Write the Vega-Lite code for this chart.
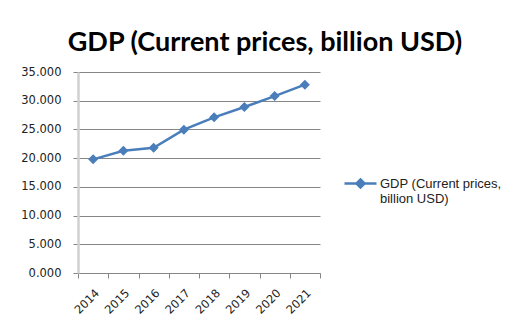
{
  "$schema": "https://vega.github.io/schema/vega-lite/v6.json",
  "width": 242,
  "height": 201,
  "autosize": "none",
  "padding": {"left": 78, "top": 72, "right": 196, "bottom": 53},
  "background": "white",
  "title": {
    "text": "GDP (Current prices, billion USD)",
    "font": "Lato",
    "fontSize": 27,
    "fontWeight": "bold",
    "color": "#000000",
    "anchor": "middle",
    "dx": 66,
    "offset": 9
  },
  "config": {
    "view": {"stroke": null},
    "axis": {"labelFont": "DejaVu Sans", "labelFontSize": 11.5, "labelColor": "#222222"}
  },
  "data": {
    "values": [
      {"year": "2014", "gdp": 19.79, "series": "GDP"},
      {"year": "2015", "gdp": 21.29, "series": "GDP"},
      {"year": "2016", "gdp": 21.8, "series": "GDP"},
      {"year": "2017", "gdp": 24.95, "series": "GDP"},
      {"year": "2018", "gdp": 27.1, "series": "GDP"},
      {"year": "2019", "gdp": 28.9, "series": "GDP"},
      {"year": "2020", "gdp": 30.8, "series": "GDP"},
      {"year": "2021", "gdp": 32.8, "series": "GDP"}
    ]
  },
  "encoding": {
    "x": {
      "field": "year",
      "type": "ordinal",
      "scale": {"paddingInner": 0, "paddingOuter": 0},
      "axis": {
        "title": null,
        "labelAngle": -45,
        "tickBand": "extent",
        "domainColor": "#868686",
        "tickColor": "#868686",
        "tickSize": 5,
        "labelPadding": 9,
        "grid": false
      }
    },
    "y": {
      "field": "gdp",
      "type": "quantitative",
      "scale": {"domain": [0, 35], "nice": false},
      "axis": {
        "title": null,
        "values": [0, 5, 10, 15, 20, 25, 30, 35],
        "format": ".3f",
        "grid": true,
        "gridColor": "#868686",
        "domainColor": "#D0D0D0",
        "domainWidth": 2.5,
        "tickColor": "#868686",
        "tickSize": 5,
        "labelPadding": 12
      }
    }
  },
  "layer": [
    {
      "mark": {"type": "line", "color": "#4A7EBB", "strokeWidth": 2.5}
    },
    {
      "mark": {"type": "point", "shape": "diamond", "filled": true, "size": 100, "opacity": 1},
      "encoding": {
        "color": {
          "field": "series",
          "type": "nominal",
          "scale": {"range": ["#4A7EBB"]},
          "legend": {
            "title": null,
            "orient": "none",
            "legendX": 265,
            "legendY": 94,
            "symbolType": "M-1,0L1,0M0,-0.25L0.25,0L0,0.25L-0.25,0Z",
            "symbolSize": 1024,
            "symbolFillColor": "#4A7EBB",
            "symbolStrokeColor": "#4A7EBB",
            "symbolStrokeWidth": 2.5,
            "labelExpr": "['GDP (Current prices,', 'billion USD)']",
            "labelFont": "Liberation Sans",
            "labelFontSize": 13,
            "labelColor": "#222222",
            "labelOffset": 2
          }
        }
      }
    }
  ]
}
